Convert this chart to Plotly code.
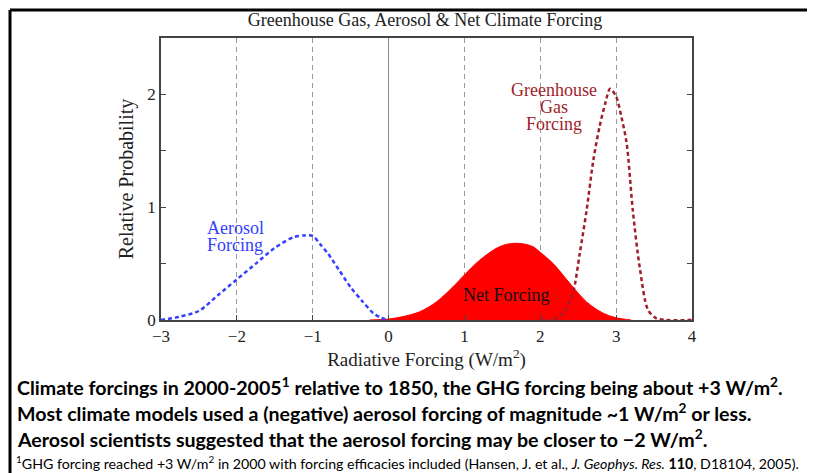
import plotly.graph_objects as go

# Aerosol forcing probability (blue dashed)
aer_x = [-3.0, -2.75, -2.5, -2.25, -2.0, -1.75, -1.5, -1.25, -1.1, -1.0, -0.9, -0.8, -0.65, -0.5, -0.35, -0.2, -0.1, 0.0]
aer_y = [0.0, 0.03, 0.08, 0.22, 0.36, 0.50, 0.64, 0.735, 0.75, 0.745, 0.67, 0.59, 0.44, 0.29, 0.17, 0.06, 0.02, 0.0]

# Greenhouse gas forcing probability (dark red dashed)
ghg_x = [2.0, 2.15, 2.3, 2.43, 2.52, 2.61, 2.70, 2.78, 2.86, 2.92, 3.0, 3.07, 3.14, 3.22, 3.31, 3.42, 3.53, 3.65, 4.0]
ghg_y = [0.0, 0.0, 0.06, 0.24, 0.59, 0.97, 1.42, 1.71, 1.93, 2.05, 1.98, 1.80, 1.56, 0.97, 0.47, 0.09, 0.015, 0.0, 0.0]

# Net forcing probability (red filled)
net_x = [-0.25, 0.0, 0.19, 0.41, 0.63, 0.85, 1.0, 1.2, 1.42, 1.55, 1.69, 1.8, 1.905, 2.0, 2.17, 2.39, 2.61, 2.83, 3.0, 3.2]
net_y = [0.0, 0.008, 0.03, 0.073, 0.16, 0.295, 0.40, 0.53, 0.635, 0.67, 0.68, 0.672, 0.65, 0.60, 0.50, 0.325, 0.16, 0.06, 0.02, 0.0]

x_ticks = [-3, -2, -1, 0, 1, 2, 3, 4]
x_labels = ["\u22123", "\u22122", "\u22121", "0", "1", "2", "3", "4"]
y_ticks = [0, 0.5, 1, 1.5, 2, 2.5]
y_labels = ["0", "", "1", "", "2", ""]

aer_label = ["Aerosol", "Forcing"]
ghg_label = ["Greenhouse", "Gas", "Forcing"]

caption = [
    "<b>Climate forcings in 2000-2005<sup>1</sup> relative to 1850, the GHG forcing being about +3 W/m<sup>2</sup>.</b>",
    "<b>Most climate models used a (negative) aerosol forcing of magnitude ~1 W/m<sup>2</sup> or less.</b>",
    "<b>Aerosol scientists suggested that the aerosol forcing may be closer to \u22122 W/m<sup>2</sup>.</b>",
]
footnote = ("<sup>1</sup>GHG forcing reached +3 W/m<sup>2</sup> in 2000 with forcing efficacies included "
            "(Hansen, J. et al., <i>J. Geophys. Res.</i> <b>110</b>, D18104, 2005).")

W, H = 815, 473
OFF = 8  # page body margin
L, R, T, B = 161, 692, 38, 320  # plot area in page pixels

def px(x):
    return (x - L) / (R - L)

def py(y):
    return (B - y) / (B - T)

serif = "Liberation Serif, Times New Roman, serif"
sans = "Lato, sans-serif"
blue = "#3340ff"
darkred = "#a01e2c"

fig = go.Figure()
fig.add_trace(go.Scatter(x=net_x, y=net_y, mode="lines", line=dict(color="#ff0000", width=1, shape="spline", smoothing=0.9),
                         fill="tozeroy", fillcolor="#ff0000", hoverinfo="skip"))
fig.add_trace(go.Scatter(x=aer_x, y=aer_y, mode="lines",
                         line=dict(color=blue, width=2.5, dash="4px,3px", shape="spline", smoothing=0.8)))
fig.add_trace(go.Scatter(x=ghg_x, y=ghg_y, mode="lines",
                         line=dict(color=darkred, width=2.5, dash="4px,3px", shape="spline", smoothing=0.8)))

fig.update_layout(
    width=W - OFF, height=H - OFF, showlegend=False,
    margin=dict(l=L - OFF, r=W - R, t=T - OFF, b=H - B),
    paper_bgcolor="white", plot_bgcolor="white",
    font=dict(family=serif, size=16, color="#222"),
    title=dict(text="Greenhouse Gas, Aerosol & Net Climate Forcing", x=(425 - OFF) / (W - OFF), xanchor="center",
               y=1 - (20 - OFF) / (H - OFF), yanchor="middle", font=dict(family=serif, size=18, color="#222")),
)
fig.update_xaxes(range=[-3, 4], tickvals=x_ticks, ticktext=x_labels, ticks="inside", ticklen=5,
                 showline=True, mirror=True, linecolor="#444", linewidth=1.5,
                 showgrid=True, gridcolor="#9a9a9a", griddash="5px,4px", gridwidth=1,
                 zeroline=True, zerolinecolor="#888", zerolinewidth=1,
                 tickfont=dict(size=17), title=dict(text="Radiative Forcing (W/m<sup>2</sup>)", font=dict(size=19), standoff=3))
fig.update_yaxes(range=[0, 2.5], tickvals=y_ticks, ticktext=y_labels, ticks="inside", ticklen=5,
                 showline=True, mirror="ticks", linecolor="#444", linewidth=1.5, showgrid=False, zeroline=False,
                 tickfont=dict(size=17), title=dict(text="Relative Probability", font=dict(size=20), standoff=8))

# curve labels, one annotation per line for tight line spacing
for i, t in enumerate(aer_label):
    fig.add_annotation(x=-2.42, y=0.814 - 0.15 * i, text=t, showarrow=False, xanchor="left",
                       font=dict(family=serif, size=18, color=blue))
for i, t in enumerate(ghg_label):
    fig.add_annotation(x=2.18, y=2.042 - 0.151 * i, text=t, showarrow=False,
                       font=dict(family=serif, size=18, color=darkred))
fig.add_annotation(x=1.55, y=0.22, text="Net Forcing", showarrow=False,
                   font=dict(family=serif, size=18, color="#111"))

for i, line in enumerate(caption):
    fig.add_annotation(xref="paper", yref="paper", x=px(15), y=py(386 + 26 * i), text=line, showarrow=False,
                       xanchor="left", yanchor="middle", font=dict(family=sans, size=19.6, color="black"))
fig.add_annotation(xref="paper", yref="paper", x=px(14), y=py(462), text=footnote, showarrow=False,
                   xanchor="left", yanchor="middle", font=dict(family=sans, size=14.2, color="black"))

# black frame on top and left
fig.add_shape(type="line", xref="paper", yref="paper", x0=px(10), y0=py(10), x1=px(W + 5), y1=py(10),
              line=dict(color="black", width=3))
fig.add_shape(type="line", xref="paper", yref="paper", x0=px(10), y0=py(10), x1=px(10), y1=py(H + 5),
              line=dict(color="black", width=3))

fig.write_html("out.html")
